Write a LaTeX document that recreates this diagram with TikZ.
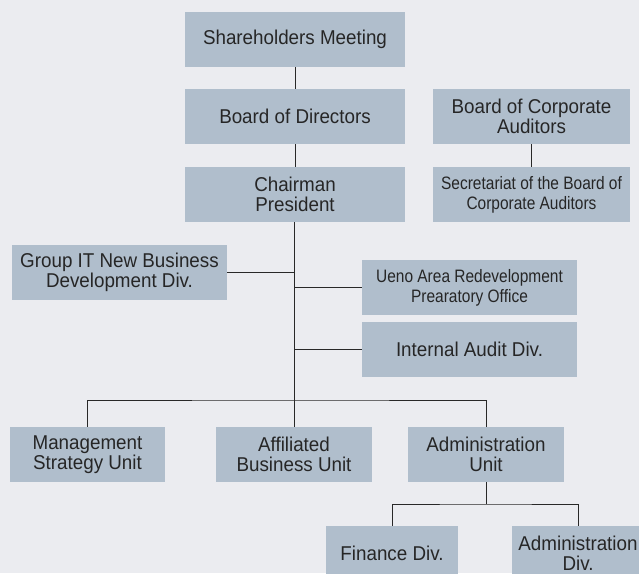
\documentclass[tikz,border=0pt]{standalone}
\usepackage{fontspec}
\setmainfont{Liberation Sans}[FakeStretch=0.94]
\newfontfamily\narrowfont{Liberation Sans}[FakeStretch=0.86]
\usepackage{tikz}
\usetikzlibrary{positioning,calc}
\definecolor{pageBg}{RGB}{235,236,240}
\definecolor{unitFill}{RGB}{176,190,204}
\definecolor{linkLine}{RGB}{40,40,40}
\tikzset{
    unitBox/.style={ % width in pt
    ,   rectangle
    ,   fill=unitFill
    ,   draw=none
    ,   minimum width=#1
    ,   minimum height=55pt
    ,   inner sep=0pt
    ,   align=center
    ,   text=black!85
    ,   font={\fontsize{20}{20}\selectfont}
    },
    narrowBox/.style={
    ,   unitBox=#1
    ,   font={\narrowfont\fontsize{18}{20}\selectfont}
    },
    orgLink/.style={
    ,   draw=linkLine
    ,   line width=0.9pt
    },
}

\begin{document}
\begin{tikzpicture}[x=1pt,y=-1pt]
		\fill[pageBg] (0,0) rectangle (639,573);
		\clip (0,0) rectangle (639,573);

		% top of the chart
		\node[unitBox=220pt] (SM) at (295,39.5) {Shareholders Meeting};
		\node[unitBox=220pt] (BoD) at (295,116.5) {Board of Directors};
		\node[unitBox=220pt] (CP) at (295,194.5) {Chairman\\President};
		\node[unitBox=197pt] (BCA) at (531.5,116.5) {Board of Corporate\\Auditors};
		\node[narrowBox=197pt] (Sec) at (531.5,194.5) {Secretariat of the Board of\\Corporate Auditors};

		% staff offices
		\node[unitBox=215pt] (GIT) at (119.5,272.5) {Group IT New Business\\Development Div.};
		\node[narrowBox=215pt] (Ueno) at (469.5,287.5) {Ueno Area Redevelopment\\Prearatory Office};
		\node[unitBox=215pt] (IAD) at (469.5,349.5) {Internal Audit Div.};

		% units
		\node[unitBox=155pt] (MSU) at (87.5,454.5) {Management\\Strategy Unit};
		\node[unitBox=156pt] (ABU) at (294,454.5) {Affiliated\\Business Unit};
		\node[unitBox=156pt] (AU) at (486,454.5) {Administration\\Unit};
		\node[unitBox=132pt] (Fin) at (392,553.5) {Finance Div.};
		\node[unitBox=132pt] (AD) at (578,553.5) {Administration\\Div.};

		\coordinate (bus) at (294,400);
		\coordinate (subBus) at (486,504);

		\path[orgLink] (SM) edge (BoD)
				(BoD) edge (CP)
				(BCA) edge (Sec)
				(CP.south -| ABU.north) edge (ABU.north);
		\draw[orgLink] (GIT.east) -- (GIT.east -| ABU.north);
		\draw[orgLink] (Ueno.west) -- (Ueno.west -| ABU.north);
		\draw[orgLink] (IAD.west) -- (IAD.west -| ABU.north);
		\draw[orgLink] (MSU.north) |- (bus) -| (AU.north);
		\draw[orgLink] (AU.south) -- (subBus);
		\draw[orgLink] (Fin.north) |- (subBus) -| (AD.north);
		\end{tikzpicture}
\end{document}
